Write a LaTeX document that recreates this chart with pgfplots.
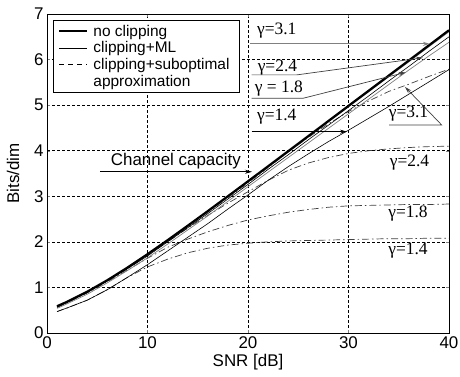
\documentclass[border=0pt]{standalone}
\usepackage{pgfplots}
\pgfplotsset{compat=1.18}
\usepackage{pgfplotstable}
\usetikzlibrary{arrows.meta}
\usepackage{fontspec}
\setmainfont{Liberation Sans}
\newfontfamily\tms{Liberation Serif}
\definecolor{lgray}{gray}{0.5}
\definecolor{dgray}{gray}{0.25}
\pgfplotstableread{
x cap ml31 ml24 ml18 ml14 sb31 sb24 sb18 sb14
1 0.588 0.585 0.57 0.54 0.47 0.585 0.575 0.56 0.47
2 0.685 0.68 0.67 0.64 0.55 0.68 0.67 0.66 0.55
4 0.906 0.90 0.89 0.85 0.72 0.90 0.89 0.88 0.72
6 1.158 1.15 1.14 1.10 0.95 1.15 1.14 1.12 0.95
8 1.435 1.425 1.41 1.37 1.22 1.42 1.41 1.38 1.22
10 1.730 1.72 1.69 1.65 1.50 1.71 1.70 1.64 1.45
12 2.037 2.025 2.00 1.95 1.80 2.015 2.00 1.88 1.62
14 2.354 2.34 2.31 2.26 2.10 2.33 2.30 2.06 1.76
16 2.675 2.66 2.62 2.57 2.40 2.65 2.58 2.22 1.86
18 3.001 2.985 2.94 2.89 2.72 2.97 2.85 2.36 1.93
20 3.329 3.31 3.26 3.21 3.03 3.29 3.10 2.48 1.97
22 3.659 3.64 3.59 3.53 3.35 3.63 3.35 2.57 2.00
24 3.989 3.97 3.91 3.85 3.65 3.97 3.57 2.65 2.02
26 4.320 4.30 4.24 4.17 3.93 4.29 3.73 2.71 2.03
28 4.652 4.63 4.56 4.49 4.20 4.59 3.85 2.76 2.04
30 4.984 4.96 4.88 4.81 4.45 4.86 3.94 2.79 2.05
32 5.315 5.29 5.20 5.13 4.71 5.09 4.00 2.80 2.06
34 5.647 5.62 5.53 5.45 4.97 5.30 4.04 2.81 2.07
36 5.979 5.95 5.85 5.77 5.24 5.46 4.07 2.82 2.07
38 6.312 6.28 6.18 6.08 5.51 5.63 4.09 2.82 2.08
40 6.644 6.61 6.50 6.38 5.78 5.79 4.10 2.83 2.08
}\data
\begin{document}
\begin{tikzpicture}
\begin{axis}[
  scale only axis, width=402bp, height=319bp,
  xmin=0, xmax=40, ymin=0, ymax=7,
  xtick={0,10,20,30,40}, ytick={0,1,...,7},
  /pgf/number format/assume math mode=true,
  ticklabel style={font=\fontsize{17}{19}\selectfont},
  label style={font=\fontsize{17}{19}\selectfont},
  xlabel={SNR [dB]}, ylabel={Bits/dim},
  xlabel style={yshift=1bp}, ylabel style={yshift=8bp},
  tick align=inside, major tick length=3bp,
  grid=major,
  major grid style={black, line width=0.55bp, dash pattern=on 2.5bp off 2.5bp},
  axis line style={black, line width=0.8bp},
  legend image code/.code={\draw[#1] (0bp,0bp) -- (28bp,0bp);},
  legend cell align=left,
  legend style={at={(0.015,0.981)}, anchor=north west, draw=black, line width=0.8bp,
    font=\fontsize{15.5}{17}\selectfont, inner xsep=5bp, inner ysep=3bp, row sep=1bp,
    nodes={inner ysep=1.5bp, inner xsep=5bp}},
]
\coordinate (bbsw) at (rel axis cs:0,0);
% suboptimal (dash-dot)
\addplot[forget plot, dgray, line width=0.7bp, dash pattern=on 7bp off 3bp on 1.5bp off 3bp] table[x=x,y=sb31]{\data};
\addplot[forget plot, dgray, line width=0.7bp, dash pattern=on 7bp off 3bp on 1.5bp off 3bp] table[x=x,y=sb24]{\data};
\addplot[forget plot, dgray, line width=0.7bp, dash pattern=on 7bp off 3bp on 1.5bp off 3bp] table[x=x,y=sb18]{\data};
\addplot[forget plot, dgray, line width=0.7bp, dash pattern=on 7bp off 3bp on 1.5bp off 3bp] table[x=x,y=sb14]{\data};
% ML (thin solid)
\addplot[forget plot, lgray, line width=0.7bp] table[x=x,y=ml31]{\data};
\addplot[forget plot, black, line width=0.6bp] table[x=x,y=ml24]{\data};
\addplot[forget plot, lgray, line width=0.7bp] table[x=x,y=ml18]{\data};
\addplot[forget plot, black, line width=0.6bp] table[x=x,y=ml14]{\data};
% capacity
\addplot[forget plot, black, line width=2.2bp] table[x=x,y=cap]{\data};
% legend
\addlegendimage{black, line width=2bp}
\addlegendentry{no clipping}
\addlegendimage{black, line width=0.7bp}
\addlegendentry{clipping+ML}
\addlegendimage{black, line width=0.8bp, dash pattern=on 5bp off 4bp}
\addlegendentry{clipping+suboptimal}
\addlegendimage{empty legend}
\addlegendentry{approximation}
% annotations
\tikzset{ann/.style={line width=0.7bp, dgray}, arr/.style={-{Stealth[length=7bp,width=4bp]}}}
\tikzset{gl/.style={font=\tms\fontsize{17.5}{19}\selectfont}}
\node[gl] at (axis cs:22.86,6.635) {γ=3.1};
\draw[ann, lgray, line width=1.2bp, arr] (axis cs:20.2,6.345) -- (axis cs:38.1,6.345);
\node[gl] at (axis cs:22.93,5.83) {γ=2.4};
\draw[ann, arr] (axis cs:20.37,5.664) -- (axis cs:24.85,5.664) -- (axis cs:37.4,6.04);
\node[gl] at (axis cs:23.08,5.356) {γ = 1.8};
\draw[ann, arr] (axis cs:20.37,5.152) -- (axis cs:25.5,5.152) -- (axis cs:35.7,5.72);
\node[gl] at (axis cs:22.86,4.75) {γ=1.4};
\draw[ann, black, arr] (axis cs:20.37,4.418) -- (axis cs:29.85,4.418);
\node[font=\fontsize{17}{19}\selectfont] at (axis cs:12.82,3.763) {Channel capacity};
\draw[ann, black, arr] (axis cs:5.27,3.538) -- (axis cs:20.4,3.538);
\node[gl] at (axis cs:35.97,4.81) {γ=3.1};
\draw[ann, arr] (axis cs:34.03,4.565) -- (axis cs:39.27,4.565) -- (axis cs:35.62,5.40);
\node[gl] at (axis cs:36.07,3.74) {γ=2.4};
\node[gl] at (axis cs:35.92,2.624) {γ=1.8};
\node[gl] at (axis cs:35.92,1.818) {γ=1.4};
\end{axis}
\pgfresetboundingbox
\path (bbsw) ++(-47bp,-44bp) rectangle ++(460bp,377bp);
\end{tikzpicture}
\end{document}
